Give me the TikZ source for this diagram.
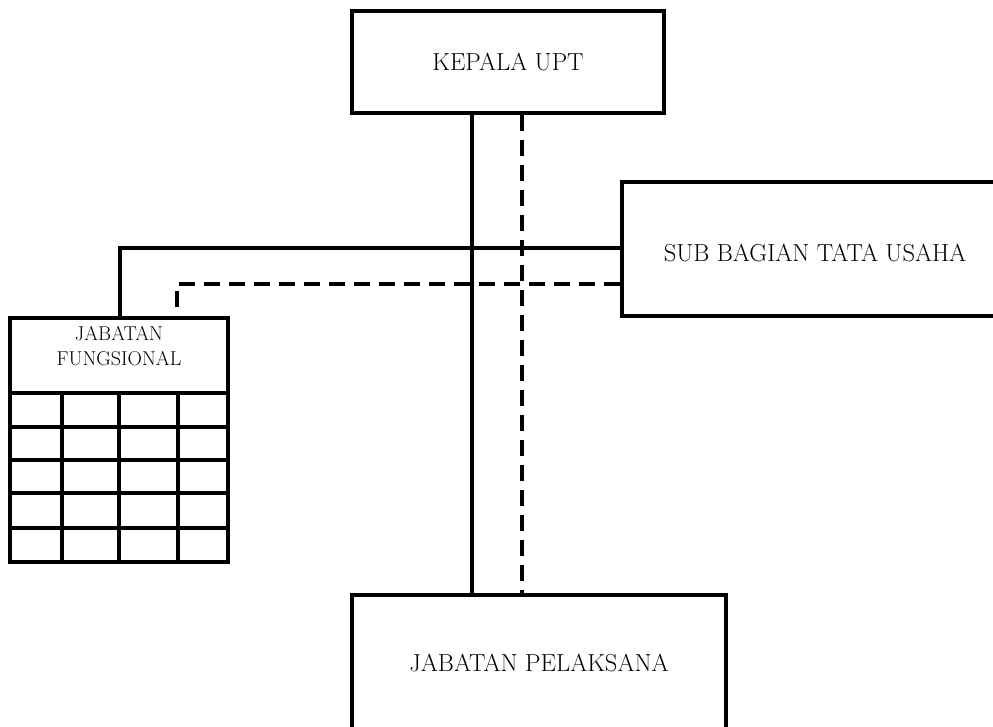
\documentclass[tikz,border=0pt]{standalone}
\usepackage{fontspec}
\setmainfont{Latin Modern Roman}
\begin{document}
\begin{tikzpicture}[x=1pt,y=-1pt,
  box/.style={draw=black,line width=4pt,fill=white,inner sep=0pt},
  bigtext/.style={font=\fontsize{24.6}{28}\selectfont},
  smalltext/.style={font=\fontsize{20}{25}\selectfont,align=center},
  solidline/.style={draw=black,line width=4pt},
  dashline/.style={draw=black,line width=4pt,dash pattern=on 16pt off 9pt}]
\useasboundingbox (0,0) rectangle (993,726);
\clip (0,0) rectangle (993,726);
\coordinate (sx) at (472,0);
\coordinate (dx) at (522,0);
\coordinate (sy) at (0,248);
\coordinate (dy) at (0,284);
\coordinate (fx) at (120,0);
\coordinate (gx) at (177,0);
% nodes
\node[box,bigtext,minimum width=312pt,minimum height=102pt] (kepala) at (508,62) {KEPALA UPT};
\node[box,minimum width=400pt,minimum height=134pt] (sub) at (822,249) {};
\node[bigtext] (subt) at (815,253) {SUB BAGIAN TATA USAHA};
\node[box,minimum width=374pt,minimum height=140pt] (pelaksana) at (539,665) {};
\node[bigtext] (pelt) at (539,663) {JABATAN PELAKSANA};
\node[box,minimum width=218pt,minimum height=244pt] (fung) at (119,440) {};
\node[smalltext] (fungt) at (119,346) {JABATAN\\FUNGSIONAL};
% grid of jabatan fungsional
\foreach \yy in {393,427,460,493,528}
  \draw[line width=4pt] (fung.west |- 0,\yy) -- (fung.east |- 0,\yy);
\foreach \xx in {62,119,178}
  \draw[line width=4pt] (\xx,393) -- (fung.south -| \xx,0);
% connectors
\draw[solidline] (kepala.south -| sx) -- (pelaksana.north -| sx);
\draw[dashline] (kepala.south -| dx) -- (pelaksana.north -| dx);
\draw[solidline] (sub.west |- sy) -- (fx |- sy) -- (fung.north -| fx);
\draw[dashline] (sub.west |- dy) -- (gx |- dy) -- (fung.north -| gx);
\end{tikzpicture}
\end{document}
